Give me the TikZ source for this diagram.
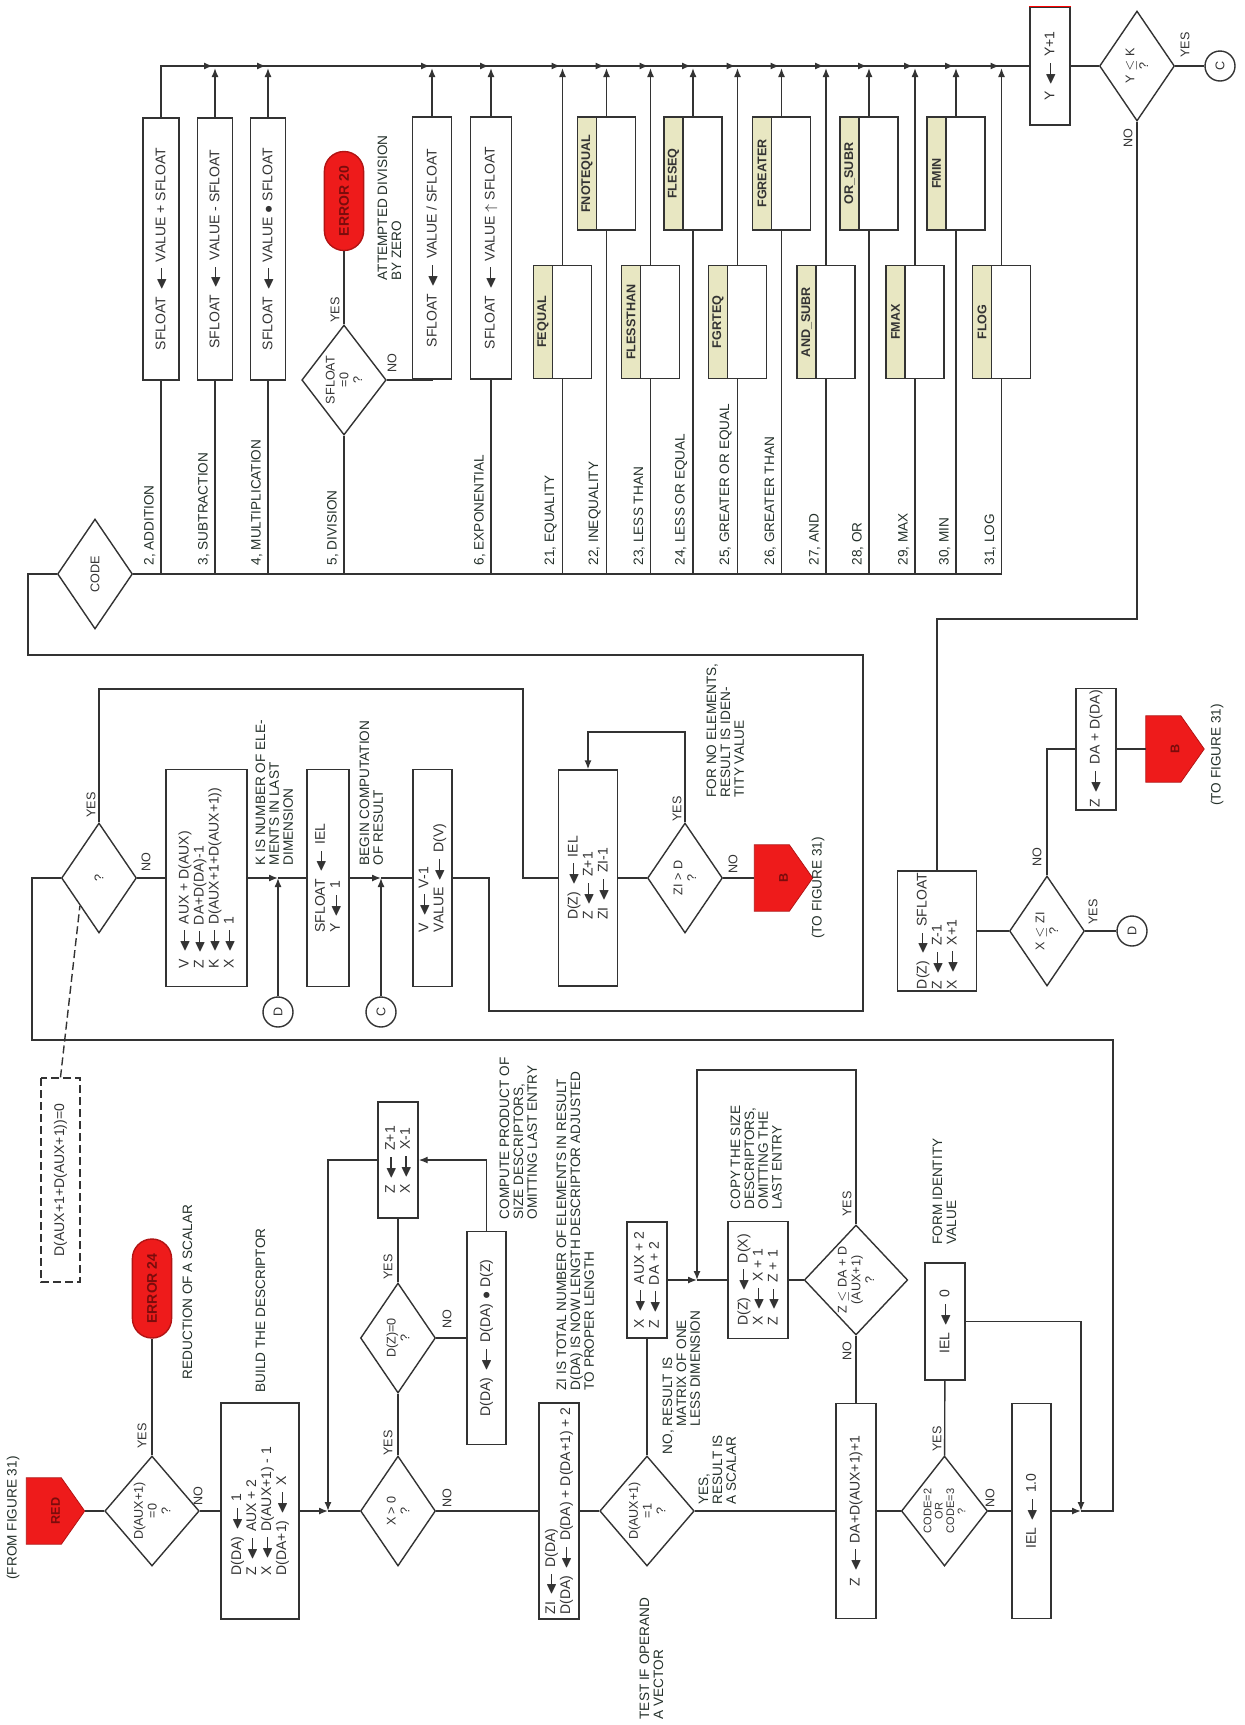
\documentclass[tikz,border=0pt]{standalone}
\usepackage{fontspec}
\setmainfont{Liberation Sans}
\usepackage{amssymb}
\usetikzlibrary{arrows.meta,calc,shapes.geometric}

\definecolor{Ink}{HTML}{333333}
\definecolor{Note}{HTML}{24302A}
\definecolor{ErrRed}{HTML}{EE1B1B}
\definecolor{ErrText}{HTML}{7A0C0C}
\definecolor{Strip}{HTML}{E8E7C2}

\newcommand\lar{\,\ensuremath{\blacktriangleleft}\kern-0.3em\rule[0.23em]{1.0em}{0.55pt}\,}
\newcommand\fbx{\fontsize{7}{7.5}\selectfont}
\newcommand\fnt{\fontsize{6.8}{6.9}\selectfont}
\newcommand\fdm{\fontsize{6.3}{6.9}\selectfont}
\newcommand\offpage[3]{%
  \node[offp] (#1) at (#2) {};
  \filldraw[fill=ErrRed, draw=ErrRed!75!black, line width=0.4pt]
    (#1.north west) -- (#1.north east)
    -- ($(#1.north east)!0.6!(#1.south east)$) -- (#1.south)
    -- ($(#1.north west)!0.6!(#1.south west)$) -- cycle;
  \node[offtxt] at (#1) {#3};}
\newcommand\cmpbox[4]{%
  \node[cmp] (#1) at (#2,#3) {};
  \node[cstrip] at (#1.north) {#4};}

\begin{document}
\begin{tikzpicture}[x=0.5pt, y=-0.5pt, line width=0.7pt, color=Ink,
  blk/.style={draw, rotate=90, fill=white, inner sep=1pt, align=left, font=\fbx},
  opbox/.style={blk, minimum width=131pt, align=center},
  dia/.style={draw, diamond, rotate=90, fill=white, inner sep=0pt,
              minimum width=55pt, minimum height=37.5pt, align=center, font=\fdm},
  conn/.style={draw, circle, rotate=90, minimum size=15pt, inner sep=0pt, font=\fdm},
  errbox/.style={draw=ErrRed!75!black, fill=ErrRed, rounded corners=9.8pt, rotate=90,
                 minimum width=49.5pt, minimum height=19.6pt, inner sep=0pt,
                 font=\fbx\bfseries, text=ErrText},
  offp/.style={rotate=90, inner sep=0pt, minimum width=32.5pt, minimum height=28.5pt},
  offtxt/.style={rotate=90, font=\fdm\bfseries, text=ErrText},
  note/.style={rotate=90, font=\fnt, text=Note, align=left, inner sep=1pt},
  yn/.style={rotate=90, font=\fdm, inner sep=0pt},
  cmp/.style={draw, rotate=90, fill=white, minimum width=56.5pt, minimum height=29pt, inner sep=0pt},
  cstrip/.style={draw, rotate=90, fill=Strip, minimum width=56.5pt, minimum height=9.5pt,
                 inner sep=0pt, anchor=north, font=\fdm\bfseries},
  arr/.style={-{Latex[length=4.5pt,width=3.5pt]}}]
\path[use as bounding box, fill=white] (0,0) rectangle (1245,1725);

% operations selected by CODE
\node[opbox, minimum height=18pt]   (opAdd) at (161,249) {SFLOAT \lar\ VALUE + SFLOAT};
\node[opbox, minimum height=17.5pt] (opSub) at (215,249) {SFLOAT \lar\ VALUE - SFLOAT};
\node[opbox, minimum height=17.5pt] (opMul) at (268,249) {SFLOAT \lar\ VALUE $\bullet$ SFLOAT};
\node[opbox, minimum height=19.5pt] (opDiv) at (432,248) {SFLOAT \lar\ VALUE / SFLOAT};
\node[opbox, minimum height=20.5pt] (opExp) at (491,248) {SFLOAT \lar\ VALUE $\uparrow$ SFLOAT};
\node[dia] (dZero) at (344,380) {SFLOAT\\=0\\?};
\node[errbox] (eDiv) at (344,201) {ERROR 20};
\node[note, anchor=north west] at (375,283) {ATTEMPTED DIVISION\\BY ZERO};

\cmpbox{fEq}{562.5}{322}{FEQUAL}
\cmpbox{fNe}{606.5}{173.5}{FNOTEQUAL}
\cmpbox{fLt}{650.5}{322}{FLESSTHAN}
\cmpbox{fLe}{693}{173.5}{FLESEQ}
\cmpbox{fGe}{737.5}{322}{FGRTEQ}
\cmpbox{fGt}{781.5}{173.5}{FGREATER}
\cmpbox{fAnd}{826}{322}{AND\_SUBR}
\cmpbox{fOr}{869}{173.5}{OR\_SUBR}
\cmpbox{fMax}{915}{322}{FMAX}
\cmpbox{fMin}{956}{173.5}{FMIN}
\cmpbox{fLog}{1001.5}{322}{FLOG}

\node[blk, minimum width=59pt, minimum height=20pt, align=center] (yinc) at (1050,66) {Y \lar\ Y+1};
\draw[red, line width=0.8pt] (yinc.north east) -- (yinc.south east);
\node[dia] (yk) at (1137,66) {Y $\le$ K\\?};
\node[conn] (cc2) at (1220,66) {C};
\node[dia] (cd) at (95,574) {CODE};

% reduction loop
\node[dia] (qd) at (99,878) {?};
\node[blk, minimum width=108.5pt, minimum height=40.5pt] (vb) at (206.5,878)
  {V \lar\ AUX + D(AUX)\\Z \lar\ DA+D(DA)-1\\K \lar\ D(AUX+1+D(AUX+1))\\X \lar\ 1};
\coordinate (j1) at (278,878);
\node[conn] (dc1) at (278,1012) {D};
\node[blk, minimum width=108.5pt, minimum height=21pt] (sib) at (328,878) {SFLOAT \lar\ IEL\\Y \lar\ 1};
\coordinate (j2) at (381,878);
\node[conn] (cc1) at (381,1012) {C};
\node[blk, minimum width=108.5pt, minimum height=19.5pt] (vvb) at (432.5,878) {V \lar\ V-1\\VALUE \lar\ D(V)};
\node[blk, minimum width=108pt, minimum height=29.5pt] (dzi) at (588,878) {D(Z) \lar\ IEL\\Z \lar\ Z+1\\ZI \lar\ ZI-1};
\node[dia] (zd) at (685,878) {ZI > D\\?};
\offpage{b1}{783.5,878}{B}
\node[note, align=center] at (818,888) {(TO FIGURE 31)};
\node[note, anchor=north west] at (704,800) {FOR NO ELEMENTS,\\RESULT IS IDEN-\\TITY VALUE};
\node[note, anchor=north west] at (253,868) {K IS NUMBER OF ELE-\\MENTS IN LAST\\DIMENSION};
\node[note, anchor=north west] at (357,868) {BEGIN COMPUTATION\\OF RESULT};
\node[blk, dash pattern=on 4pt off 2pt, minimum width=102pt, minimum height=19.5pt, align=center]
  (dashb) at (60.5,1180) {D(AUX+1+D(AUX+1))=0};
\coordinate (qy) at (523,689);
\coordinate (zy) at (588,732);
\coordinate (v1) at (489,1011);
\coordinate (v2) at (863,655);
\coordinate (v3) at (28,574);

% main row
\offpage{reo}{55.5,1511}{RED}
\node[note, align=center] at (13,1518) {(FROM FIGURE 31)};
\node[dia, minimum height=36pt] (d1) at (152,1511) {D(AUX+1)\\=0\\?};
\node[errbox] (err24) at (152,1288.5) {ERROR 24};
\node[note, anchor=north west] at (180,1382) {REDUCTION OF A SCALAR};
\node[blk, minimum width=108pt, minimum height=39pt] (bd) at (260,1511)
  {D(DA) \lar\ 1\\Z \lar\ AUX + 2\\X \lar\ D(AUX+1) - 1\\D(DA+1) \lar\ X};
\node[note, anchor=north west] at (253,1395) {BUILD THE DESCRIPTOR};
\coordinate (jx) at (328,1511);
\node[dia] (xd) at (398,1511) {X > 0\\?};
\node[dia] (dz) at (398,1338) {D(Z)=0\\?};
\node[blk, minimum width=58pt, minimum height=20pt] (zz) at (398,1160) {Z \lar\ Z+1\\X \lar\ X-1};
\node[blk, minimum width=106.5pt, minimum height=19.5pt, align=center] (dd) at (486.5,1338)
  {D(DA) \lar\ D(DA) $\bullet$ D(Z)};
\node[note, anchor=north west] at (497,1222) {COMPUTE PRODUCT OF\\SIZE DESCRIPTORS,\\OMITTING LAST ENTRY};
\node[blk, minimum width=108pt, minimum height=20pt] (zi) at (559,1511)
  {ZI \lar\ D(DA)\\D(DA) \lar\ D(DA) + D(DA+1) + 2};
\node[note, anchor=north west] at (554,1393)
  {ZI IS TOTAL NUMBER OF ELEMENTS IN RESULT\\D(DA) IS NOW LENGTH DESCRIPTOR ADJUSTED\\TO PROPER LENGTH};
\node[dia] (d2) at (647,1511) {D(AUX+1)\\=1\\?};
\node[note, anchor=north west] at (637,1722) {TEST IF OPERAND\\A VECTOR};
\node[note, anchor=north west] at (660,1457) {NO, RESULT IS\\\hphantom{NO, }MATRIX OF ONE\\\hphantom{NO, }LESS DIMENSION};
\node[note, anchor=north west] at (696,1507) {YES,\\RESULT IS\\A SCALAR};
\node[blk, minimum width=58pt, minimum height=20pt] (xa) at (647,1280) {X \lar\ AUX + 2\\Z \lar\ DA + 2};
\coordinate (jc) at (697,1280);
\node[blk, minimum width=58.5pt, minimum height=30pt] (dx) at (758,1280) {D(Z) \lar\ D(X)\\X \lar\ X + 1\\Z \lar\ Z + 1};
\node[note, anchor=north west] at (728,1212) {COPY THE SIZE\\DESCRIPTORS,\\OMITTING THE\\LAST ENTRY};
\node[dia] (d3) at (856,1280) {Z $\le$ DA + D\\(AUX+1)\\?};
\coordinate (lp3) at (697,1070);
\node[blk, minimum width=107.5pt, minimum height=20pt, align=center] (zd1) at (856,1511) {Z \lar\ DA+D(AUX+1)+1};
\node[dia, font=\fontsize{5.5}{5.7}\selectfont] (cd2) at (944.5,1511) {CODE=2\\OR\\CODE=3\\?};
\node[blk, minimum width=58.5pt, minimum height=20pt, align=center] (ie0) at (945,1321.5) {IEL \lar\ 0};
\node[note, anchor=north west] at (930,1247) {FORM IDENTITY\\VALUE};
\node[blk, minimum width=107.5pt, minimum height=19.5pt, align=center] (ie1) at (1031.5,1511) {IEL \lar\ 1.0};
\coordinate (jb) at (1081,1511);
\coordinate (lr) at (1113,1040);
\coordinate (ll) at (32,1040);

% right column
\coordinate (yn) at (1137,619);
\node[blk, minimum width=59.5pt, minimum height=39.5pt] (dzs) at (937,931) {D(Z) \lar\ SFLOAT\\Z \lar\ Z-1\\X \lar\ X+1};
\node[dia] (xzi) at (1047,931) {X $\le$ ZI\\?};
\node[conn] (dc2) at (1132,931) {D};
\node[blk, minimum width=59.5pt, minimum height=20pt, align=center] (zda) at (1096,749) {Z \lar\ DA + D(DA)};
\offpage{b2}{1175,749}{B}
\node[note, align=center] at (1217,755) {(TO FIGURE 31)};

% yes / no
\node[yn] at (335,310) {YES};   \node[yn] at (392,363) {NO};
\node[yn] at (91,805) {YES};    \node[yn] at (146,862) {NO};
\node[yn] at (677,809) {YES};   \node[yn] at (733,864) {NO};
\node[yn] at (1185,45) {YES};   \node[yn] at (1128,138) {NO};
\node[yn] at (1093,912) {YES};  \node[yn] at (1037,857) {NO};
\node[yn] at (142,1436) {YES};  \node[yn] at (198,1496) {NO};
\node[yn] at (388,1443) {YES};  \node[yn] at (447,1498) {NO};
\node[yn] at (388,1267) {YES};  \node[yn] at (447,1319) {NO};
\node[yn] at (847,1204) {YES};  \node[yn] at (847,1351) {NO};
\node[yn] at (937,1439) {YES};  \node[yn] at (990,1498) {NO};

% code bus and its branches
\draw (cd) -- (cd -| fLog);
\foreach \b/\lab in {opAdd/{2, ADDITION}, opSub/{3, SUBTRACTION}, opMul/{4, MULTIPLICATION},
    dZero/{5, DIVISION}, opExp/{6, EXPONENTIAL}, fEq/{21, EQUALITY}, fNe/{22, INEQUALITY},
    fLt/{23, LESS THAN}, fLe/{24, LESS OR EQUAL}, fGe/{25, GREATER OR EQUAL},
    fGt/{26, GREATER THAN}, fAnd/{27, AND}, fOr/{28, OR}, fMax/{29, MAX},
    fMin/{30, MIN}, fLog/{31, LOG}}
  {\draw (\b |- cd) -- (\b);
   \node[note, anchor=south west] at ($(\b |- cd)+(-3,-6)$) {\lab};}

% collecting bus
\draw (opAdd) |- (yinc);
\foreach \b in {opSub,opMul,opDiv,opExp,fEq,fNe,fLt,fLe,fGe,fGt,fAnd,fOr,fMax,fMin,fLog}
  {\draw[arr] (\b) -- ($(\b |- yinc)+(0,2)$);
   \draw[arr] ($(\b |- yinc)+(-14,0)$) -- ($(\b |- yinc)+(-2,0)$);}
\draw (eDiv) -- (dZero);
\draw (dZero) -| (opDiv);
\draw (yinc) -- (yk);
\draw (yk) -- (cc2);
\draw (yk) -- (yn) -| (dzs);
\draw (dzs) -- (xzi);
\draw (xzi) -- (dc2);
\draw (xzi) |- (zda);
\draw (zda) -- (b2);

% loop connectors
\draw (qd) -- (vb);
\draw[arr] (vb) -- (j1);
\draw[arr] (dc1) -- (j1);
\draw (j1) -- (sib);
\draw[arr] (sib) -- (j2);
\draw[arr] (cc1) -- (j2);
\draw (j2) -- (vvb);
\draw (vvb) -| (v1) -| (v2) -| (v3) -- (cd);
\draw (qd) |- (qy) |- (dzi);
\draw (dzi) -- (zd);
\draw[arr] (zd) |- (zy) -- (dzi);
\draw (zd) -- (b1);
\draw[dash pattern=on 4pt off 2pt] (dashb.east) -- (qd.north west);

% main row connectors
\draw (reo) -- (d1);
\draw (d1) -- (err24);
\draw (d1) -- (bd);
\draw[arr] (bd) -- (jx);
\draw (jx) -- (xd);
\draw (xd) -- (dz);
\draw (dz) -- (zz);
\draw (dz) -- (dd);
\draw[arr] (dd) |- (zz);
\draw[arr] (zz) -| (jx);
\draw (xd) -- (zi);
\draw (zi) -- (d2);
\draw (d2) -- (xa);
\draw[arr] (xa) -- (jc);
\draw (jc) -- (dx);
\draw (dx) -- (d3);
\draw[arr] (d3) |- (lp3) -- (jc);
\draw (d3) -- (zd1);
\draw (d2) -- (zd1);
\draw (zd1) -- (cd2);
\draw (cd2) -- (ie0);
\draw[arr] (ie0) -| (jb);
\draw (cd2) -- (ie1);
\draw[arr] (ie1) -- (jb);
\draw (jb) -| (lr) -- (ll) |- (qd);
\end{tikzpicture}
\end{document}
